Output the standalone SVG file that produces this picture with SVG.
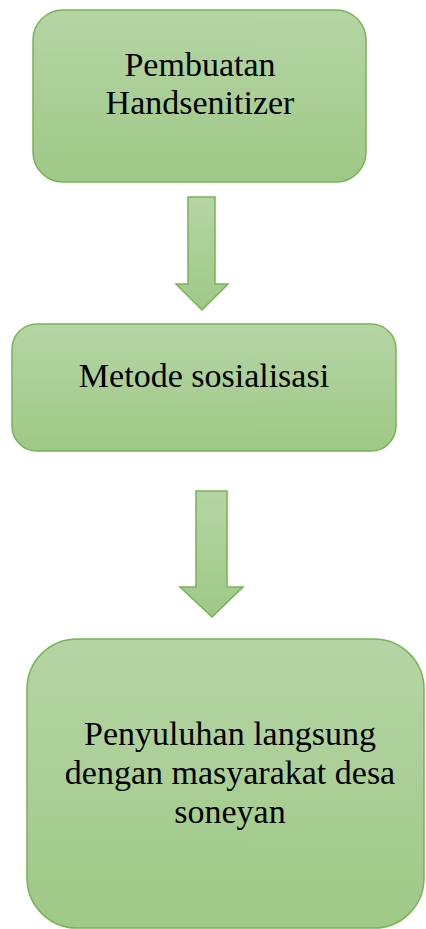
<svg xmlns="http://www.w3.org/2000/svg" width="426" height="929" viewBox="0 0 426 929">
<defs>
<linearGradient id="g" x1="0" y1="0" x2="0" y2="1">
<stop offset="0" stop-color="#b5d5a4"/>
<stop offset="1" stop-color="#9fc987"/>
</linearGradient>
</defs>
<style>
.box{fill:url(#g);stroke:#78b354;stroke-width:1.5}
.arr{fill:url(#g);stroke:#78b354;stroke-width:1.5;stroke-linejoin:miter}
.t{font-family:"Liberation Serif","Times New Roman",serif;font-size:34px;fill:#000;text-anchor:middle}
</style>
<rect width="426" height="929" fill="#fff"/>
<g id="node1">
<rect class="box" x="33" y="10" width="333" height="172" rx="30" ry="30"/>
<text class="t" x="200" y="76">Pembuatan</text>
<text class="t" x="200" y="114">Handsenitizer</text>
</g>
<g id="node2">
<rect class="box" x="12" y="324" width="384" height="127" rx="25" ry="25"/>
<text class="t" x="204" y="387">Metode sosialisasi</text>
</g>
<g id="node3">
<rect class="box" x="27" y="639" width="397" height="289" rx="50" ry="50"/>
<text class="t" x="230" y="745">Penyuluhan langsung</text>
<text class="t" x="230" y="784">dengan masyarakat desa</text>
<text class="t" x="230" y="823">soneyan</text>
</g>
<g id="connectors">
<path class="arr" d="M188,197 H215 V284 H228 L202,310 L176,284 H188 Z"/>
<path class="arr" d="M196,491 H227 V587 H243 L212,617 L180,587 H196 Z"/>
</g>
</svg>
